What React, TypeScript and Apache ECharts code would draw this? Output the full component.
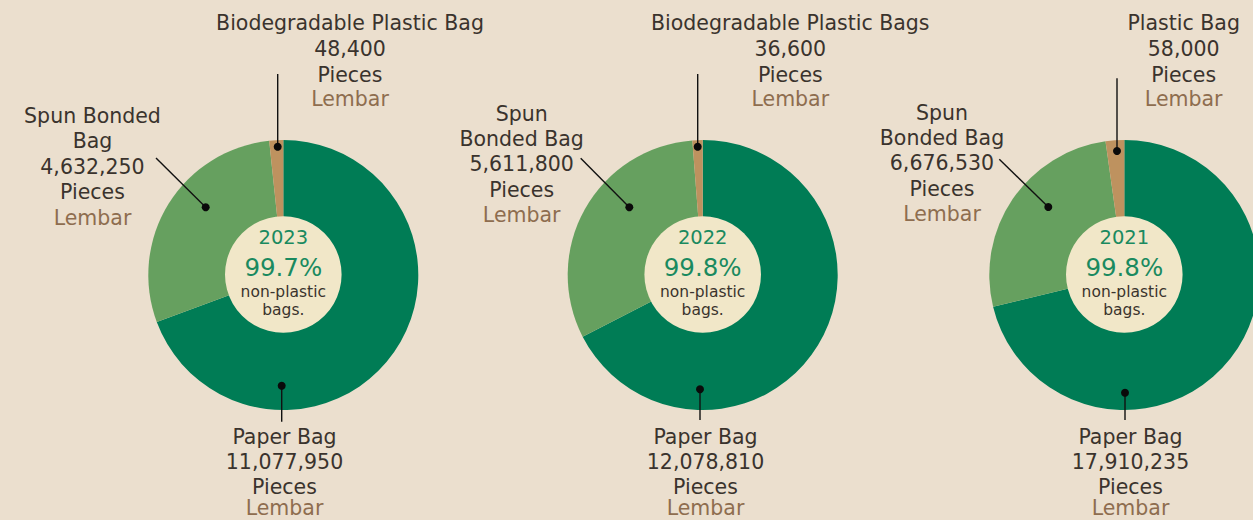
import React, { useEffect, useRef } from "react";
import * as echarts from "echarts";

// ---- data ----
const years = ["2023", "2022", "2021"];
const paperBag = [11077950, 12078810, 17910235];
const spunBondedBag = [4632250, 5611800, 6676530];
const plasticBag = [48400, 36600, 58000];
const plasticNames = ["Biodegradable Plastic Bag", "Biodegradable Plastic Bags", "Plastic Bag"];
const spunNameLines = [["Spun Bonded", "Bag"], ["Spun", "Bonded Bag"], ["Spun", "Bonded Bag"]];
const paperName = "Paper Bag";
const unitEn = "Pieces";
const unitId = "Lembar";
const centerCaption = ["non-plastic", "bags."];

// ---- layout / style ----
const BG = "#EBDFCE";
const C_PAPER = "#007C55";
const C_SPUN = "#66A05F";
const C_PLASTIC = "#BE925F";
const C_CREAM = "#F1E7C8";
const C_TEXT = "#3A332D";
const C_LEMBAR = "#8E6D4F";
const C_CENTER = "#1A8A5F";
const FONT = "'DejaVu Sans', 'Noto Sans', sans-serif";
const LABEL_SIZE = 20.5;

const centerX = [283.3, 702.7, 1124.3];
const centerY = 275;
const radius = 135;
const holeR = 58.3;
const plasticMinAngle = [6, 4.4, 8];

const plasticLabelX = [350, 790.3, 1183.7];
const plasticLabelY = [23, 49, 75, 99];
const spunLabelX = [92.5, 521.7, 942];
const spunLabelTop = [116, 113.5, 112.5];
const spunStep = 25.4;
const paperLabelX = [284.5, 705.5, 1130.5];
const paperLabelY = [436.5, 461.5, 486.5, 508];

const plasticLine = [
  [277.7, 74, 277.7, 146.7],
  [697.7, 74, 697.7, 146.7],
  [1117, 78.3, 1117, 151],
];
const spunLine = [
  [156, 158, 205.7, 207.3],
  [580.7, 158.3, 629.3, 207.3],
  [999.3, 159.3, 1048.3, 207],
];
const paperLine = [
  [281.7, 385.7, 281.7, 421.7],
  [700, 389.3, 700, 420],
  [1125, 392.7, 1125, 420],
];

const fmt = (v: number) => v.toLocaleString("en-US");

function txt(text: string, x: number, y: number, size: number, fill: string) {
  return {
    type: "text",
    silent: true,
    z: 10,
    style: {
      text,
      x,
      y,
      fill,
      fontSize: size,
      fontFamily: FONT,
      textAlign: "center",
      textVerticalAlign: "middle",
      align: "center",
      verticalAlign: "middle",
    },
  };
}

function leader(seg: number[], dotAtEnd: boolean) {
  const [x1, y1, x2, y2] = seg;
  const dx = dotAtEnd ? x2 : x1;
  const dy = dotAtEnd ? y2 : y1;
  return [
    {
      type: "line",
      silent: true,
      z: 12,
      shape: { x1, y1, x2, y2 },
      style: { stroke: "#111111", lineWidth: 1.4 },
    },
    {
      type: "circle",
      silent: true,
      z: 13,
      shape: { cx: dx, cy: dy, r: 4 },
      style: { fill: "#0a0a0a" },
    },
  ];
}

export default function App() {
  const ref = useRef<HTMLDivElement>(null);

  useEffect(() => {
    document.body.style.margin = "0";
    document.body.style.background = BG;
    if (!ref.current) return;
    const chart = echarts.init(ref.current, undefined, { renderer: "svg" });

    const series: any[] = years.map((y, i) => ({
      type: "pie",
      name: y,
      center: [centerX[i], centerY],
      radius: [0, radius],
      startAngle: 90,
      clockwise: true,
      minAngle: plasticMinAngle[i],
      avoidLabelOverlap: false,
      silent: true,
      label: { show: false },
      labelLine: { show: false },
      itemStyle: { borderWidth: 0 },
      emphasis: { disabled: true },
      data: [
        { name: paperName, value: paperBag[i], itemStyle: { color: C_PAPER } },
        { name: spunNameLines[i].join(" "), value: spunBondedBag[i], itemStyle: { color: C_SPUN } },
        { name: plasticNames[i], value: plasticBag[i], itemStyle: { color: C_PLASTIC } },
      ],
    }));

    const elements: any[] = [];
    years.forEach((y, i) => {
      const total = paperBag[i] + spunBondedBag[i] + plasticBag[i];
      const pct = (((paperBag[i] + spunBondedBag[i]) / total) * 100).toFixed(1) + "%";
      elements.push({
        type: "circle",
        silent: true,
        z: 5,
        shape: { cx: centerX[i], cy: centerY - 0.5, r: holeR },
        style: { fill: C_CREAM },
      });
      elements.push(txt(y, centerX[i], 237.5, 19.5, C_CENTER));
      elements.push(txt(pct, centerX[i], 267.5, 24.5, C_CENTER));
      elements.push(txt(centerCaption[0], centerX[i], 291.5, 15.5, C_TEXT));
      elements.push(txt(centerCaption[1], centerX[i], 310, 15.5, C_TEXT));

      const pl = [plasticNames[i], fmt(plasticBag[i]), unitEn];
      pl.forEach((t, k) => elements.push(txt(t, plasticLabelX[i], plasticLabelY[k], LABEL_SIZE, C_TEXT)));
      elements.push(txt(unitId, plasticLabelX[i], plasticLabelY[3], LABEL_SIZE, C_LEMBAR));

      const sl = [...spunNameLines[i], fmt(spunBondedBag[i]), unitEn];
      sl.forEach((t, k) => elements.push(txt(t, spunLabelX[i], spunLabelTop[i] + k * spunStep, LABEL_SIZE, C_TEXT)));
      elements.push(txt(unitId, spunLabelX[i], spunLabelTop[i] + 4 * spunStep, LABEL_SIZE, C_LEMBAR));

      const pp = [paperName, fmt(paperBag[i]), unitEn];
      pp.forEach((t, k) => elements.push(txt(t, paperLabelX[i], paperLabelY[k], LABEL_SIZE, C_TEXT)));
      elements.push(txt(unitId, paperLabelX[i], paperLabelY[3], LABEL_SIZE, C_LEMBAR));

      elements.push(...leader(plasticLine[i], true));
      elements.push(...leader(spunLine[i], true));
      elements.push(...leader(paperLine[i], false));
    });

    chart.setOption({
      animation: false,
      backgroundColor: BG,
      series,
      graphic: { elements },
    });

    return () => chart.dispose();
  }, []);

  return <div ref={ref} style={{ width: 1253, height: 520, background: BG }} />;
}
